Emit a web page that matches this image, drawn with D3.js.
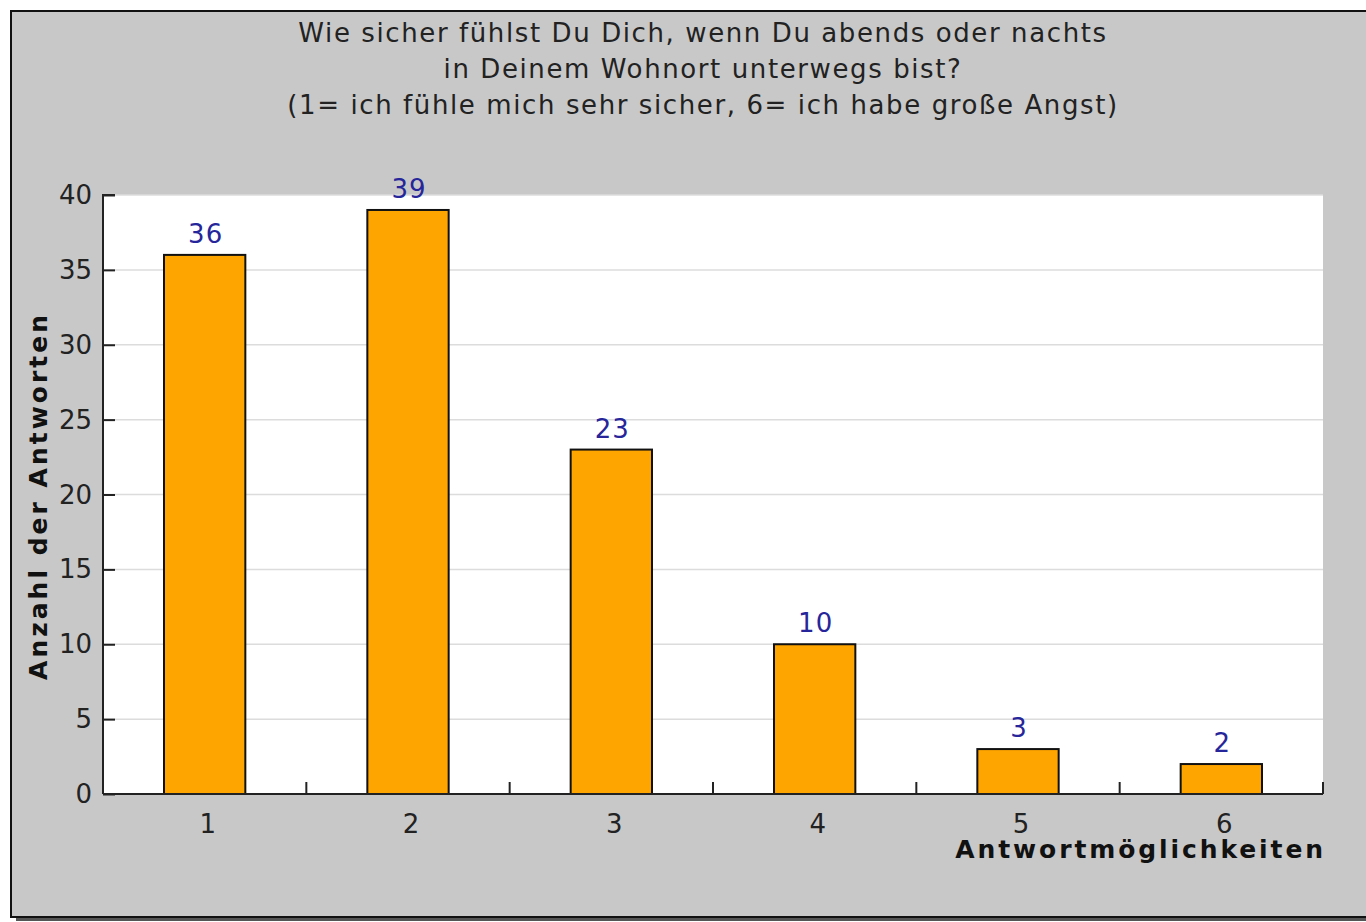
<!DOCTYPE html>
<html><head><meta charset="utf-8">
<script src="https://cdn.jsdelivr.net/npm/d3@7"></script>
<style>html,body{margin:0;padding:0;background:#fff;overflow:hidden}</style>
</head><body>
<svg id="c" width="1366" height="922"></svg>
<script>
const categories = ["1","2","3","4","5","6"];
const values = [36, 39, 23, 10, 3, 2];
const yTicks = [0,5,10,15,20,25,30,35,40];
const titleLines = ["Wie sicher fühlst Du Dich, wenn Du abends oder nachts",
  "in Deinem Wohnort unterwegs bist?",
  "(1= ich fühle mich sehr sicher, 6= ich habe große Angst)"];
const yLabel = "Anzahl der Antworten";
const xLabel = "Antwortmöglichkeiten";

const svg = d3.select("#c");
const font = "'DejaVu Sans', Verdana, sans-serif";
// frame + shadow
svg.append("rect").attr("x",16).attr("y",16).attr("width",1380).attr("height",905).attr("fill","#555");
svg.append("rect").attr("x",11).attr("y",11).attr("width",1380).attr("height",906)
  .attr("fill","#c8c8c8").attr("stroke","#111").attr("stroke-width",2);

const L=103, R=1323, T=195, B=794;
const x = d3.scaleBand().domain(categories).range([L,R]).paddingInner(0.6).paddingOuter(0.3);
const y = d3.scaleLinear().domain([0,40]).range([B,T]);

svg.append("rect").attr("x",L).attr("y",T).attr("width",R-L).attr("height",B-T).attr("fill","#fff");
// grid
svg.append("g").selectAll("line").data(yTicks.filter(d=>d>0)).join("line")
  .attr("x1",L).attr("x2",R).attr("y1",d=>y(d)).attr("y2",d=>y(d))
  .attr("stroke","#dcdcdc").attr("stroke-width",1.5);

// bars
svg.append("g").selectAll("rect").data(values).join("rect")
  .attr("x",(d,i)=>x(categories[i])).attr("width",x.bandwidth())
  .attr("y",d=>y(d)).attr("height",d=>B-y(d))
  .attr("fill","#ffa500").attr("stroke","#111").attr("stroke-width",2);

// value labels
svg.append("g").selectAll("text").data(values).join("text")
  .attr("x",(d,i)=>x(categories[i])+x.bandwidth()/2+1).attr("y",d=>y(d)-12)
  .attr("text-anchor","middle").attr("font-family",font).attr("font-size",26)
  .attr("letter-spacing",1).attr("fill","#26269a").text(d=>d);

// y axis
const yAxis = d3.axisRight(y).tickValues(yTicks).tickSize(12).tickFormat("");
const gy = svg.append("g").attr("transform",`translate(${L},0)`).call(yAxis);
gy.select(".domain").attr("stroke","#222").attr("stroke-width",2).attr("d",`M12,${T}H0V${B}`);
gy.selectAll(".tick line").attr("stroke","#222").attr("stroke-width",2);
svg.append("g").selectAll("text").data(yTicks).join("text")
  .attr("x",L-11).attr("y",d=>y(d)+9).attr("text-anchor","end")
  .attr("font-family",font).attr("font-size",26).attr("fill","#222").text(d=>d);

// x axis
svg.append("line").attr("x1",L).attr("x2",R).attr("y1",B).attr("y2",B).attr("stroke","#222").attr("stroke-width",2);
const step = x.step();
svg.append("g").selectAll("line").data(categories).join("line")
  .attr("x1",d=>x(d)+x.bandwidth()+step*x.paddingOuter()).attr("x2",d=>x(d)+x.bandwidth()+step*x.paddingOuter())
  .attr("y1",B).attr("y2",B-12).attr("stroke","#222").attr("stroke-width",2);
svg.append("g").selectAll("text").data(categories).join("text")
  .attr("x",d=>x(d)+x.bandwidth()/2+3).attr("y",833).attr("text-anchor","middle")
  .attr("font-family",font).attr("font-size",26).attr("fill","#222").text(d=>d);

// axis titles
svg.append("text").attr("x",R+3).attr("y",858).attr("text-anchor","end")
  .attr("font-family",font).attr("font-weight","bold").attr("font-size",25)
  .attr("letter-spacing",2.9).attr("fill","#111").text(xLabel);
svg.append("text").attr("transform",`translate(47,${(312+678)/2+1}) rotate(-90)`).attr("text-anchor","middle")
  .attr("font-family",font).attr("font-weight","bold").attr("font-size",25)
  .attr("letter-spacing",3).attr("fill","#111").text(yLabel);

// title
svg.append("g").selectAll("text").data(titleLines).join("text")
  .attr("x",703).attr("y",(d,i)=>42+i*36).attr("text-anchor","middle")
  .attr("font-family",font).attr("font-size",26).attr("letter-spacing",1.6)
  .attr("fill","#222").text(d=>d);
</script>
</body></html>
